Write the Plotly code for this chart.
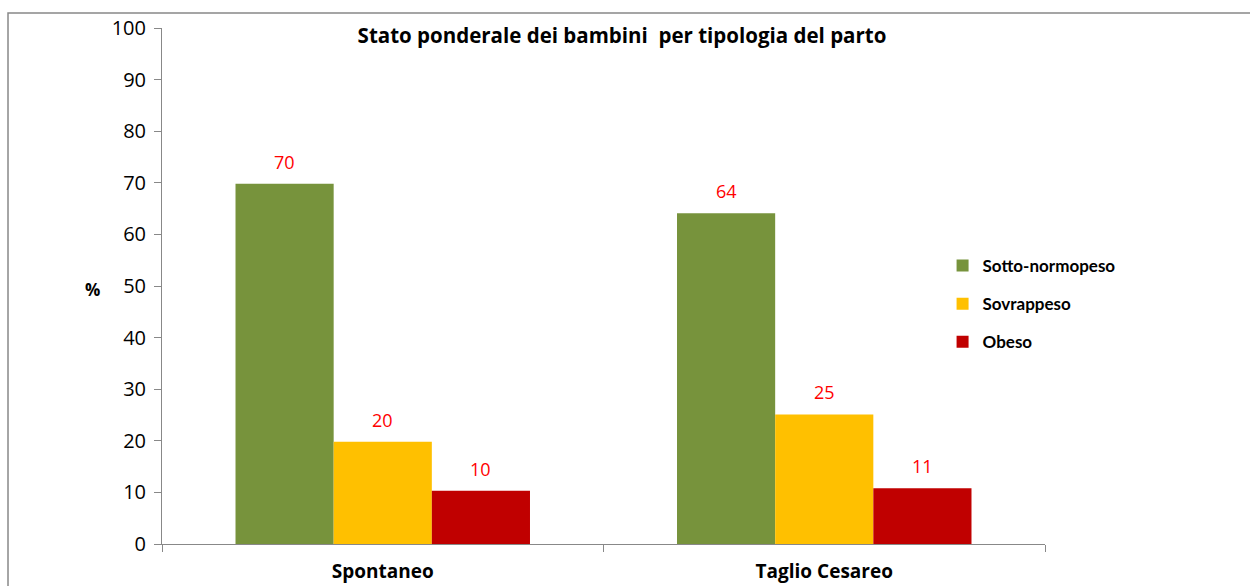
import plotly.graph_objects as go

categories = ["Spontaneo", "Taglio Cesareo"]
series_names = ["Sotto-normopeso", "Sovrappeso", "Obeso"]
sotto_normopeso = [69.8, 64.1]
sovrappeso = [19.8, 25.1]
obeso = [10.3, 10.8]
y_ticks = [0, 10, 20, 30, 40, 50, 60, 70, 80, 90, 100]

colors = ["#77933C", "#FFC000", "#C00000"]
FONT = "'Open Sans', sans-serif"
LFONT = "Lato, sans-serif"

W, H = 1250, 586
ML, MR, MT, MB = 162, 205, 28, 42
BARGAP = 0.333
plot_w = W - ML - MR
bar_px = plot_w / len(categories) * (1 - BARGAP) / len(series_names)

fig = go.Figure()
all_series = [sotto_normopeso, sovrappeso, obeso]
for i, (name, vals, col) in enumerate(zip(series_names, all_series, colors)):
    fig.add_trace(go.Bar(
        name=name, x=categories, y=vals, marker_color=col, marker_line_width=0,
        legendgroup=name,
    ))
    for cat, v in zip(categories, vals):
        fig.add_annotation(x=cat, y=v, xref="x", yref="y", text=f"{v:.0f}",
                           showarrow=False, xshift=(i - 1) * bar_px, yshift=22,
                           font=dict(color="#FF0000", size=18, family=FONT))

fig.update_layout(
    width=W, height=H,
    paper_bgcolor="white", plot_bgcolor="white",
    barmode="group", bargap=BARGAP, bargroupgap=0,
    margin=dict(l=ML, r=MR, t=MT, b=MB, autoexpand=False),
    font=dict(family=FONT, size=17, color="black"),
    showlegend=True,
    legend=dict(x=0.884, xanchor="left", y=0.465, yanchor="middle",
                font=dict(size=17, family=LFONT, weight="bold"),
                itemwidth=30, tracegroupgap=13, bgcolor="rgba(0,0,0,0)",
                traceorder="grouped"),
    title=dict(text="<b>Stato ponderale dei bambini  per tipologia del parto</b>",
               x=622 / W, xanchor="center", y=1 - 36 / H, yanchor="middle",
               font=dict(size=20.5, family=FONT, color="black")),
    xaxis=dict(showline=True, linecolor="#888888", linewidth=1, automargin=False,
               ticks="outside", tickson="boundaries", ticklen=7, tickcolor="#888888",
               tickfont=dict(size=19, family=FONT, weight="bold"),
               ticklabelstandoff=10, showgrid=False),
    yaxis=dict(range=[0, 100], tickvals=y_ticks, showline=True, linecolor="#888888",
               linewidth=1, ticks="outside", ticklen=7, tickcolor="#888888", automargin=False,
               tickfont=dict(size=20, family=FONT), showgrid=False, zeroline=False,
               ticklabelstandoff=4),
)

fig.add_annotation(text="<b>%</b>", xref="paper", yref="paper", x=-0.089, y=0.494,
                   showarrow=False, font=dict(size=17, family=FONT, color="black"))

fig.add_shape(type="rect", xref="paper", yref="paper",
              x0=-0.1744, x1=1.26, y0=-0.2, y1=1.029,
              line=dict(color="#888888", width=1.5), fillcolor="rgba(0,0,0,0)", layer="below")

fig.write_html("out.html", config={"displayModeBar": False},
               post_script="document.body.style.margin='0';document.body.style.overflow='hidden';")
